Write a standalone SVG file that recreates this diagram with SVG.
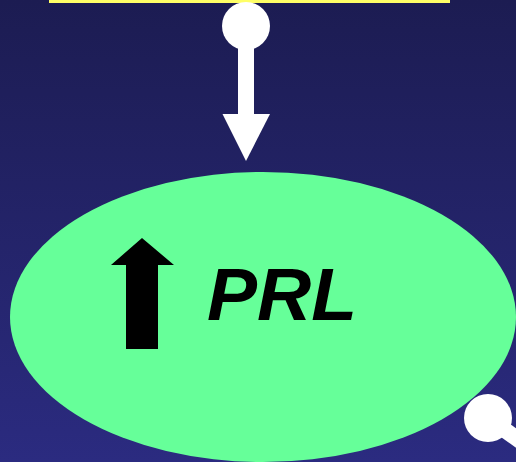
<svg xmlns="http://www.w3.org/2000/svg" width="516" height="462" viewBox="0 0 516 462">
<defs>
<linearGradient id="bg" x1="0" y1="0" x2="0" y2="1">
<stop offset="0" stop-color="#1c1c52"/>
<stop offset="1" stop-color="#2b2b80"/>
</linearGradient>
<style>
.conn{fill:#ffffff;stroke:none}
.shaft{stroke:#ffffff;stroke-width:16;fill:none}
.lbl{font-family:"Liberation Sans",Arial,sans-serif;font-weight:bold;font-style:italic;font-size:75px;fill:#000000}
</style>
</defs>
<rect x="0" y="0" width="516" height="462" fill="url(#bg)"/>
<g id="top-box">
<rect x="49" y="0" width="401" height="3" fill="#ffff66"/>
</g>
<g id="prl-node">
<ellipse cx="263" cy="317" rx="253" ry="145" fill="#66ff99"/>
<polygon points="142,238 174,265 158,265 158,349 126,349 126,265 111,265" fill="#000000"/>
<text class="lbl" x="207" y="320">PRL</text>
</g>
<g id="connectors">
<circle class="conn" cx="246" cy="26" r="24"/>
<line class="shaft" x1="246" y1="40" x2="246" y2="116"/>
<polygon class="conn" points="222.5,114 270,114 246,161"/>
<circle class="conn" cx="488" cy="418" r="24"/>
<line class="shaft" x1="488" y1="418" x2="530" y2="448"/>
</g>
</svg>
